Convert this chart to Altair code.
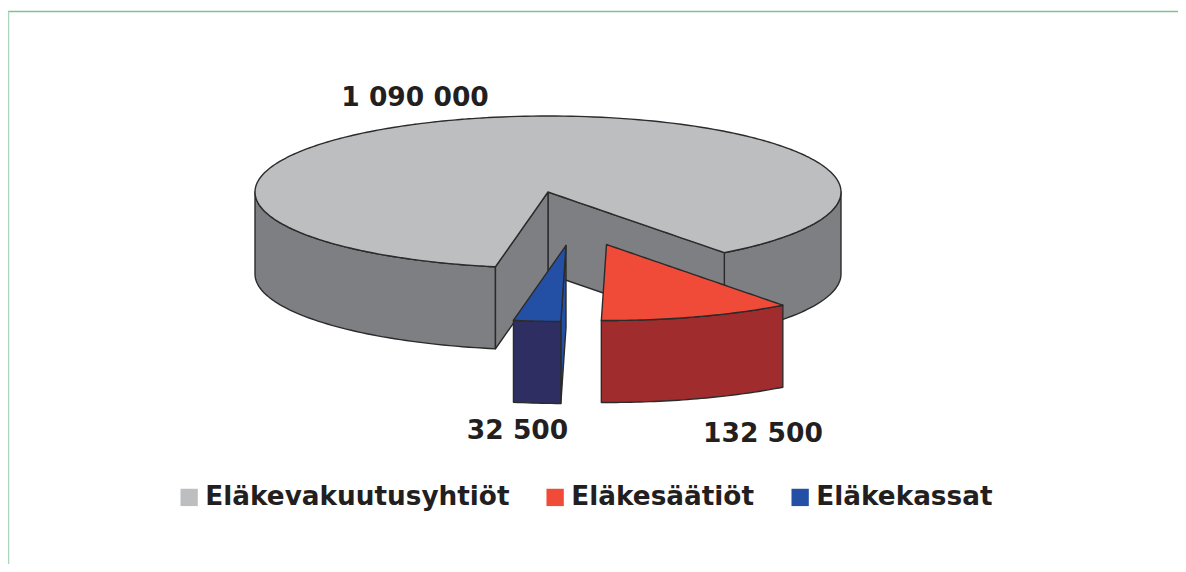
import math
import altair as alt
import pandas as pd

# ---- data
names = ["Eläkevakuutusyhtiöt", "Eläkesäätiöt", "Eläkekassat"]
values = [1090000, 132500, 32500]
top_colors = ["#bcbec0", "#f04a38", "#2350a5"]
wall_colors = ["#7d7f82", "#a02c2d", "#2e2e63"]

# ---- pie geometry (page pixels)
CX, CY, RX, RY, DEPTH = 548.0, 192.0, 293.0, 76.0, 82.0
START = 53.0
RED_SHIFT = (58.5, 52.5)
BLUE_SHIFT = (18.0, 53.5)
LINE = "#2b2b2b"
W, H = 1170, 556

total = sum(values)
span = [v / total * 360 for v in values]
red_a, red_b = START, START + span[1]
blue_a, blue_b = red_b, red_b + span[2]


def pt(deg, shift=(0.0, 0.0)):
    r = math.radians(deg)
    return CX + shift[0] + RX * math.cos(r), CY + shift[1] + RY * math.sin(r)


def arc(a, b, shift=(0.0, 0.0), n=40):
    return [pt(a + (b - a) * i / n, shift) for i in range(n + 1)]


def wall(points):
    rows = [{"x": x, "y": y, "y2": y + DEPTH} for x, y in sorted(points)]
    return pd.DataFrame(rows)


def interp(points, x):
    pts = sorted(points)
    for (x0, y0), (x1, y1) in zip(pts, pts[1:]):
        if x0 <= x <= x1 and x1 > x0:
            return y0 + (y1 - y0) * (x - x0) / (x1 - x0)
    return pts[0][1] if x <= pts[0][0] else pts[-1][1]


def surface(upper, lower):
    xs = sorted({round(p[0], 3) for p in upper} | {round(p[0], 3) for p in lower})
    return pd.DataFrame(
        [{"x": x, "y": interp(upper, x), "y2": interp(lower, x)} for x in xs]
    )


xscale = alt.Scale(domain=[8, 8 + W], range=[0, W], nice=False, zero=False)
yscale = alt.Scale(domain=[8 + H, 8], range=[H, 0], nice=False, zero=False)
X = alt.X("x:Q", scale=xscale, axis=None)
Y = alt.Y("y:Q", scale=yscale, axis=None)
Y2 = alt.Y2("y2:Q")


def wall_layer(df, color):
    return (
        alt.Chart(df)
        .mark_area(fill=color, stroke=LINE, strokeWidth=1.4, strokeJoin="round")
        .encode(x=X, y=Y, y2=Y2)
    )


def top_layer(df, name, show_legend=False):
    legend = None
    if show_legend:
        legend = alt.Legend(
            title=None,
            orient="none",
            legendX=168,
            legendY=476,
            direction="horizontal",
            symbolType="square",
            symbolSize=300,
            symbolStrokeWidth=0,
            labelFont="DejaVu Sans",
            labelFontWeight="bold",
            labelFontSize=26.3,
            labelColor="#231f20",
            labelOffset=3,
            columnPadding=32,
            labelLimit=500,
        )
    return (
        alt.Chart(df.assign(name=name))
        .mark_area(stroke=LINE, strokeWidth=1.4, strokeJoin="round")
        .encode(
            x=X,
            y=Y,
            y2=Y2,
            fill=alt.Fill(
                "name:N",
                scale=alt.Scale(domain=names, range=top_colors),
                sort=None,
                legend=legend,
            ),
        )
    )


centre = (CX, CY)

# grey slice
gray_top_upper = arc(180, 360, n=120)
gray_lower = arc(0, START, n=30) + [centre] + arc(blue_b, 180, n=60)
gray_outer_r = wall(arc(0, START, n=30))
gray_outer_l = wall(arc(blue_b, 180, n=60))
gray_face_l = wall([pt(blue_b), centre])
gray_face_r = wall([centre, pt(START)])
gray_top = surface(gray_top_upper, gray_lower)

# blue slice
b_apex = (CX + BLUE_SHIFT[0], CY + BLUE_SHIFT[1])
b_arc = arc(blue_a, blue_b, BLUE_SHIFT, n=10)
b_left = pt(blue_b, BLUE_SHIFT)
b_right = pt(blue_a, BLUE_SHIFT)
blue_top = surface([b_left, b_apex], b_arc + [b_apex])
blue_face = wall([b_right, b_apex])
blue_outer = wall(b_arc)

# red slice
r_apex = (CX + RED_SHIFT[0], CY + RED_SHIFT[1])
r_arc = arc(red_a, red_b, RED_SHIFT, n=40)
r_left = pt(red_b, RED_SHIFT)
r_right = pt(red_a, RED_SHIFT)
red_top = surface([r_left, r_apex, r_right], r_arc)
red_outer = wall(r_arc)

# value labels
def fmt(v):
    return f"{v:,}".replace(",", " ")


label_df = pd.DataFrame(
    {
        "text": [fmt(v) for v in values],
        "x": [415, 763, 517.5],
        "y": [106, 442, 439],
    }
)
labels = (
    alt.Chart(label_df)
    .mark_text(
        font="DejaVu Sans",
        fontWeight="bold",
        fontSize=26.5,
        color="#231f20",
        align="center",
        baseline="alphabetic",
    )
    .encode(x=X, y=Y, text="text:N")
)

# frame
frame_df = pd.DataFrame(
    {
        "x": [8, 8.5],
        "x2": [8 + W, 8.5],
        "y": [11.5, 11.5],
        "y2": [11.5, 8 + H],
        "c": ["#7cc494", "#a8d8bb"],
    }
)
frame = (
    alt.Chart(frame_df)
    .mark_rule(strokeWidth=1.5)
    .encode(
        x=X,
        x2=alt.X2("x2:Q"),
        y=Y,
        y2=Y2,
        color=alt.Color("c:N", scale=None, legend=None),
    )
)

chart = (
    alt.layer(
        frame,
        wall_layer(gray_outer_r, wall_colors[0]),
        wall_layer(gray_outer_l, wall_colors[0]),
        wall_layer(gray_face_r, wall_colors[0]),
        wall_layer(gray_face_l, wall_colors[0]),
        top_layer(gray_top, names[0], show_legend=True),
        wall_layer(blue_face, top_colors[2]),
        wall_layer(blue_outer, wall_colors[2]),
        top_layer(blue_top, names[2]),
        wall_layer(red_outer, wall_colors[1]),
        top_layer(red_top, names[1]),
        labels,
    )
    .properties(
        width=W,
        height=H,
        padding=0,
        autosize=alt.AutoSizeParams(type="none"),
        background="white",
    )
    .configure_view(stroke=None)
)

chart.save("out.html", embed_options={"renderer": "svg", "actions": False})
